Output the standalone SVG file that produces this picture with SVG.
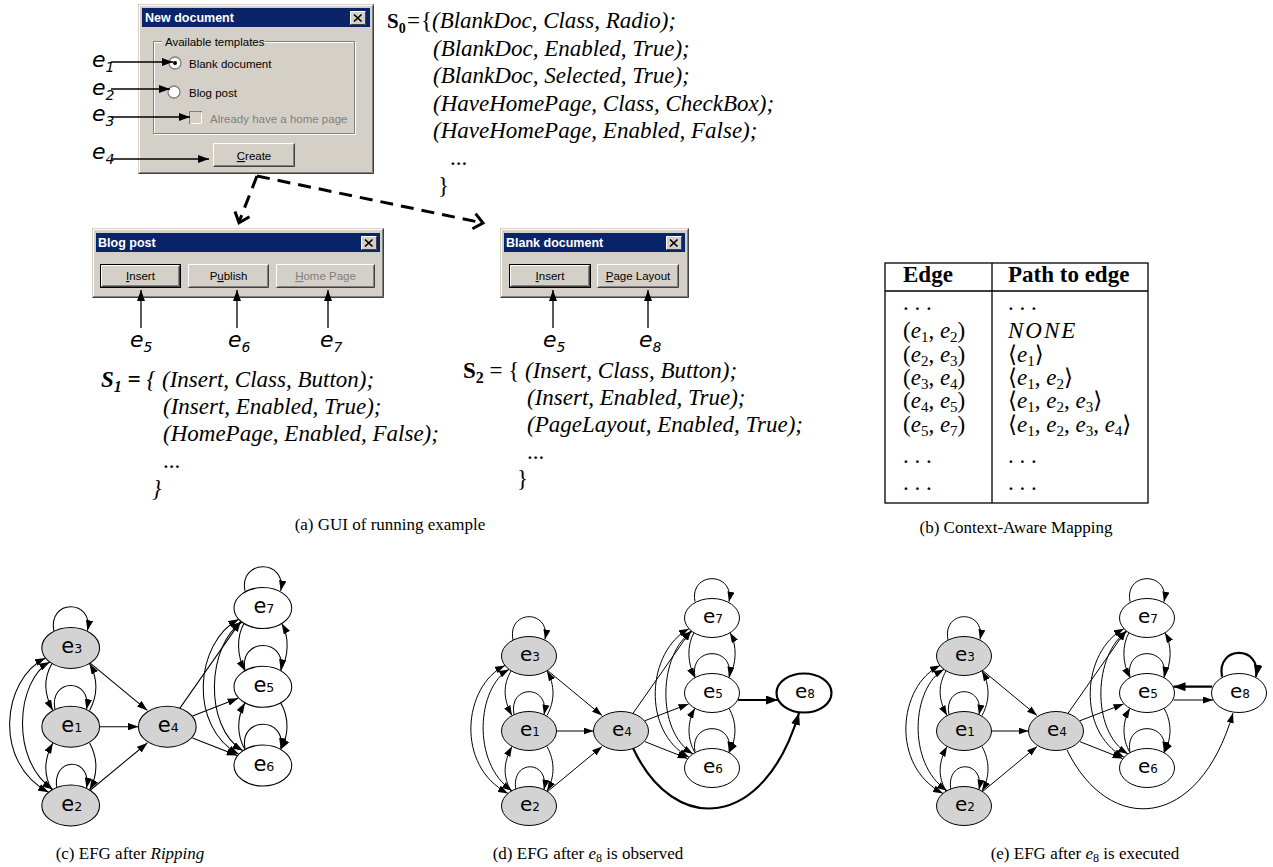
<svg xmlns="http://www.w3.org/2000/svg" width="1273" height="867" viewBox="0 0 1273 867">
<defs>
<style>
.win{fill:#d4d0c8}
.tbar{fill:#0a246a}
.ttl{font-family:"Liberation Sans",Arial,sans-serif;font-weight:bold;font-size:12.5px;fill:#fff}
.ui{font-family:"Liberation Sans",Arial,sans-serif;font-size:11.5px;fill:#000}
.dis{fill:#808080}
.hl{fill:none;stroke:#fff}
.sh{fill:none;stroke:#808080}
.dk{fill:none;stroke:#404040}
.xx{fill:none;stroke:#000;stroke-width:1.7}
.elab{font-family:"DejaVu Sans",Verdana,sans-serif;font-style:italic;font-size:22px;fill:#000}
.esub{font-size:14px}
.ptr{fill:none;stroke:#000;stroke-width:1.3;marker-end:url(#pa)}
.dash{fill:none;stroke:#000;stroke-width:3;stroke-dasharray:13 8}
.chev{fill:none;stroke:#000;stroke-width:3}
.st{font-family:"Liberation Serif","Times New Roman",serif;font-size:23px;font-style:italic;fill:#000}
.up{font-style:normal}
.bd{font-weight:bold}
.tb{font-family:"Liberation Serif","DejaVu Serif",serif;font-size:23px;fill:#000}
.mi{font-style:italic}
.sb{font-size:15px}
.grid{fill:none;stroke:#000;stroke-width:1.3}
.cap{font-family:"Liberation Serif","Times New Roman",serif;font-size:17px;fill:#000;text-anchor:middle}
.ng ellipse{fill:#d3d3d3;stroke:#000;stroke-width:1}
.nw ellipse{fill:#fff;stroke:#000;stroke-width:1}
.nb ellipse{fill:#fff;stroke:#000;stroke-width:2.2}
.nl{font-family:"DejaVu Sans",sans-serif;font-size:20px;text-anchor:middle;fill:#000}
.nd{font-size:12px}
.ed{fill:none;stroke:#000;stroke-width:1;marker-end:url(#ah)}
.ed2{fill:none;stroke:#000;stroke-width:1;marker-start:url(#ah);marker-end:url(#ah)}
.edb{fill:none;stroke:#000;stroke-width:2.2;marker-end:url(#ahb)}
</style>
<marker id="ah" viewBox="0 0 10 7" refX="10" refY="3.5" markerWidth="10" markerHeight="7" markerUnits="userSpaceOnUse" orient="auto-start-reverse"><path d="M0,0L10,3.5L0,7z"/></marker>
<marker id="ahb" viewBox="0 0 12 9" refX="12" refY="4.5" markerWidth="12" markerHeight="9" markerUnits="userSpaceOnUse" orient="auto"><path d="M0,0L12,4.5L0,9z"/></marker>
<marker id="pa" viewBox="0 0 11 8" refX="11" refY="4" markerWidth="11" markerHeight="8" markerUnits="userSpaceOnUse" orient="auto"><path d="M0,0L11,4L0,8z"/></marker>
</defs>
<rect width="1273" height="867" fill="#fff"/>

<!-- New document dialog -->
<g id="dlg-new">
<rect class="win" x="138" y="4" width="236" height="170"/>
<path class="hl" d="M139.5,172.5V5.5H372.5"/>
<path class="dk" d="M138.5,173.5H373.5V4.5"/>
<path class="sh" d="M139.5,172.5H372.5V5.5"/>
<rect class="tbar" x="142" y="8" width="228" height="19"/>
<text class="ttl" x="145" y="22">New document</text>
<rect class="win" x="350" y="11" width="16" height="14"/>
<path class="hl" d="M350.5,24.5V11.5H365.5"/><path class="dk" d="M350.5,24.5H365.5V11.5"/>
<path class="xx" d="M354,14.5L361.5,21.5M361.5,14.5L354,21.5"/>
<rect x="154.5" y="42.5" width="201" height="92" fill="none" stroke="#fff"/>
<rect x="153.5" y="41.5" width="201" height="92" fill="none" stroke="#808080"/>
<rect class="win" x="162" y="35" width="103" height="12"/>
<text class="ui" x="165" y="46">Available templates</text>
<circle cx="175" cy="63" r="6" fill="#fff" stroke="#808080" stroke-width="1.3"/>
<circle cx="175" cy="63" r="2" fill="#000"/>
<text class="ui" x="189" y="68">Blank document</text>
<circle cx="174" cy="92" r="6" fill="#fff" stroke="#808080" stroke-width="1.3"/>
<text class="ui" x="189" y="97">Blog post</text>
<rect x="189.5" y="111.5" width="12" height="12" fill="#d4d0c8" stroke="#808080"/>
<path class="hl" d="M190.5,123.5H201.5V112.5"/>
<text class="ui dis" x="210" y="123">Already have a home page</text>
<rect class="win" x="213" y="143" width="82" height="24"/>
<path class="hl" d="M213.5,166V143.5H294"/>
<path class="dk" d="M213.5,166.5H294.5V143.5"/>
<path class="sh" d="M214.5,165.5H293.5V144.5"/>
<text class="ui" x="254" y="160" text-anchor="middle"><tspan text-decoration="underline">C</tspan>reate</text>
</g>

<g id="lbl-e1"><text class="elab" x="92" y="67">e<tspan class="esub" dy="5">1</tspan></text></g>
<g id="lbl-e2"><text class="elab" x="92" y="95">e<tspan class="esub" dy="5">2</tspan></text></g>
<g id="lbl-e3"><text class="elab" x="92" y="121">e<tspan class="esub" dy="5">3</tspan></text></g>
<g id="lbl-e4"><text class="elab" x="92" y="159">e<tspan class="esub" dy="5">4</tspan></text></g>

<!-- Blog post dialog -->
<g id="dlg-blog">
<rect class="win" x="92" y="228" width="292" height="70"/>
<path class="hl" d="M93.5,296.5V229.5H382.5"/>
<path class="dk" d="M92.5,297.5H383.5V228.5"/>
<path class="sh" d="M93.5,296.5H382.5V229.5"/>
<rect class="tbar" x="96" y="233" width="284" height="19"/>
<text class="ttl" x="98" y="247">Blog post</text>
<rect class="win" x="361" y="236" width="16" height="14"/>
<path class="hl" d="M361.5,249.5V236.5H376.5"/><path class="dk" d="M361.5,249.5H376.5V236.5"/>
<path class="xx" d="M365,239.5L372.5,246.5M372.5,239.5L365,246.5"/>
<rect x="100.5" y="264.5" width="80" height="23" fill="#d4d0c8" stroke="#000"/>
<path class="hl" d="M101.5,286V265.5H179"/>
<path class="dk" d="M101.5,286.5H179.5V265.5"/>
<path class="sh" d="M102.5,285.5H178.5V266.5"/>
<text class="ui" x="140.5" y="280" text-anchor="middle"><tspan text-decoration="underline">I</tspan>nsert</text>
<rect class="win" x="188" y="264" width="81" height="24"/>
<path class="hl" d="M188.5,287V264.5H268"/>
<path class="dk" d="M188.5,287.5H268.5V264.5"/>
<path class="sh" d="M189.5,286.5H267.5V265.5"/>
<text class="ui" x="228.5" y="280" text-anchor="middle">P<tspan text-decoration="underline">u</tspan>blish</text>
<rect class="win" x="276" y="264" width="99" height="24"/>
<path class="hl" d="M276.5,287V264.5H374"/>
<path class="dk" d="M276.5,287.5H374.5V264.5"/>
<path class="sh" d="M277.5,286.5H373.5V265.5"/>
<text class="ui dis" x="325.5" y="280" text-anchor="middle"><tspan text-decoration="underline">H</tspan>ome Page</text>
</g>

<!-- Blank document dialog -->
<g id="dlg-blank">
<rect class="win" x="500" y="228" width="189" height="70"/>
<path class="hl" d="M501.5,296.5V229.5H687.5"/>
<path class="dk" d="M500.5,297.5H688.5V228.5"/>
<path class="sh" d="M501.5,296.5H687.5V229.5"/>
<rect class="tbar" x="504" y="233" width="181" height="19"/>
<text class="ttl" x="506" y="247">Blank document</text>
<rect class="win" x="666" y="236" width="16" height="14"/>
<path class="hl" d="M666.5,249.5V236.5H681.5"/><path class="dk" d="M666.5,249.5H681.5V236.5"/>
<path class="xx" d="M670,239.5L677.5,246.5M677.5,239.5L670,246.5"/>
<rect x="509.5" y="264.5" width="81" height="23" fill="#d4d0c8" stroke="#000"/>
<path class="hl" d="M510.5,286V265.5H589"/>
<path class="dk" d="M510.5,286.5H589.5V265.5"/>
<path class="sh" d="M511.5,285.5H588.5V266.5"/>
<text class="ui" x="550" y="280" text-anchor="middle"><tspan text-decoration="underline">I</tspan>nsert</text>
<rect class="win" x="597" y="264" width="82" height="24"/>
<path class="hl" d="M597.5,287V264.5H678"/>
<path class="dk" d="M597.5,287.5H678.5V264.5"/>
<path class="sh" d="M598.5,286.5H677.5V265.5"/>
<text class="ui" x="638" y="280" text-anchor="middle"><tspan text-decoration="underline">P</tspan>age Layout</text>
</g>

<g id="lbl-e5a"><text class="elab" x="130" y="347">e<tspan class="esub" dy="5">5</tspan></text></g>
<g id="lbl-e6"><text class="elab" x="228" y="347">e<tspan class="esub" dy="5">6</tspan></text></g>
<g id="lbl-e7"><text class="elab" x="320" y="347">e<tspan class="esub" dy="5">7</tspan></text></g>
<g id="lbl-e5b"><text class="elab" x="543" y="347">e<tspan class="esub" dy="5">5</tspan></text></g>
<g id="lbl-e8"><text class="elab" x="639" y="347">e<tspan class="esub" dy="5">8</tspan></text></g>

<g id="gui-connectors">
<path class="ptr" d="M111,62H173"/>
<path class="ptr" d="M111,89H170"/>
<path class="ptr" d="M111,117H190"/>
<path class="ptr" d="M112,159H209"/>
<path class="ptr" d="M141,328V290"/>
<path class="ptr" d="M237,328V290"/>
<path class="ptr" d="M328,328V290"/>
<path class="ptr" d="M553,328V290"/>
<path class="ptr" d="M648,328V290"/>
<path class="dash" d="M257,176L239,222"/>
<polyline class="chev" points="235,211.4 239,222.7 249.5,216.8"/>
<path class="dash" d="M257,176L483,223"/>
<polyline class="chev" points="475.6,213.6 483,223 472.4,228.7"/>
</g>

<!-- state texts -->
<g id="state-s0">
<text class="st" y="28"><tspan x="387" class="bd up" font-size="21">S</tspan><tspan class="bd up" font-size="14" dy="5">0</tspan><tspan class="up" x="407" dy="-5">=</tspan><tspan class="up" x="421">{</tspan><tspan x="432">(BlankDoc, Class, Radio);</tspan></text>
<text class="st" x="433" y="56">(BlankDoc, Enabled, True);</text>
<text class="st" x="433" y="83">(BlankDoc, Selected, True);</text>
<text class="st" x="433" y="111">(HaveHomePage, Class, CheckBox);</text>
<text class="st" x="433" y="138">(HaveHomePage, Enabled, False);</text>
<text class="st up" x="450" y="165">...</text>
<text class="st up" x="438" y="193">}</text>
</g>
<g id="state-s1">
<text class="st" x="101" y="387"><tspan class="bd">S</tspan><tspan class="bd" font-size="16" dy="5">1</tspan><tspan class="bd" dy="-5"> = </tspan>{<tspan x="162">(Insert, Class, Button);</tspan></text>
<text class="st" x="163" y="414">(Insert, Enabled, True);</text>
<text class="st" x="163" y="441">(HomePage, Enabled, False);</text>
<text class="st up" x="163" y="468">...</text>
<text class="st" x="152" y="496">}</text>
</g>
<g id="state-s2">
<text class="st" x="463" y="378"><tspan class="bd up">S</tspan><tspan class="bd up" font-size="16" dy="5">2</tspan><tspan class="up" dy="-5"> = {</tspan><tspan x="525">(Insert, Class, Button);</tspan></text>
<text class="st" x="527" y="405">(Insert, Enabled, True);</text>
<text class="st" x="527" y="432">(PageLayout, Enabled, True);</text>
<text class="st up" x="527" y="459">...</text>
<text class="st up" x="517" y="486">}</text>
</g>

<!-- table -->
<g id="mapping-table">
<rect class="grid" x="885" y="263" width="263" height="240"/>
<path class="grid" d="M885,291H1148M992,263V503"/>
<text class="tb bd" x="903" y="282">Edge</text>
<text class="tb bd" x="1008" y="282">Path to edge</text>
<text class="tb" x="903" y="310">. . .</text>
<text class="tb" x="1008" y="310">. . .</text>
<text class="tb" x="903" y="338">(<tspan class="mi">e</tspan><tspan class="sb" dy="4">1</tspan><tspan dy="-4">, </tspan><tspan class="mi">e</tspan><tspan class="sb" dy="4">2</tspan><tspan dy="-4">)</tspan></text>
<text class="tb mi" x="1008" y="338" letter-spacing="2">NONE</text>
<text class="tb" x="903" y="361.5">(<tspan class="mi">e</tspan><tspan class="sb" dy="4">2</tspan><tspan dy="-4">, </tspan><tspan class="mi">e</tspan><tspan class="sb" dy="4">3</tspan><tspan dy="-4">)</tspan></text>
<text class="tb" x="1008" y="361.5">⟨<tspan class="mi">e</tspan><tspan class="sb" dy="4">1</tspan><tspan dy="-4">⟩</tspan></text>
<text class="tb" x="903" y="385">(<tspan class="mi">e</tspan><tspan class="sb" dy="4">3</tspan><tspan dy="-4">, </tspan><tspan class="mi">e</tspan><tspan class="sb" dy="4">4</tspan><tspan dy="-4">)</tspan></text>
<text class="tb" x="1008" y="385">⟨<tspan class="mi">e</tspan><tspan class="sb" dy="4">1</tspan><tspan dy="-4">, </tspan><tspan class="mi">e</tspan><tspan class="sb" dy="4">2</tspan><tspan dy="-4">⟩</tspan></text>
<text class="tb" x="903" y="408">(<tspan class="mi">e</tspan><tspan class="sb" dy="4">4</tspan><tspan dy="-4">, </tspan><tspan class="mi">e</tspan><tspan class="sb" dy="4">5</tspan><tspan dy="-4">)</tspan></text>
<text class="tb" x="1008" y="408">⟨<tspan class="mi">e</tspan><tspan class="sb" dy="4">1</tspan><tspan dy="-4">, </tspan><tspan class="mi">e</tspan><tspan class="sb" dy="4">2</tspan><tspan dy="-4">, </tspan><tspan class="mi">e</tspan><tspan class="sb" dy="4">3</tspan><tspan dy="-4">⟩</tspan></text>
<text class="tb" x="903" y="431.5">(<tspan class="mi">e</tspan><tspan class="sb" dy="4">5</tspan><tspan dy="-4">, </tspan><tspan class="mi">e</tspan><tspan class="sb" dy="4">7</tspan><tspan dy="-4">)</tspan></text>
<text class="tb" x="1008" y="431.5">⟨<tspan class="mi">e</tspan><tspan class="sb" dy="4">1</tspan><tspan dy="-4">, </tspan><tspan class="mi">e</tspan><tspan class="sb" dy="4">2</tspan><tspan dy="-4">, </tspan><tspan class="mi">e</tspan><tspan class="sb" dy="4">3</tspan><tspan dy="-4">, </tspan><tspan class="mi">e</tspan><tspan class="sb" dy="4">4</tspan><tspan dy="-4">⟩</tspan></text>
<text class="tb" x="903" y="463">. . .</text>
<text class="tb" x="1008" y="463">. . .</text>
<text class="tb" x="903" y="490">. . .</text>
<text class="tb" x="1008" y="490">. . .</text>
</g>

<g id="captions">
<text class="cap" x="390" y="530">(a) GUI of running example</text>
<text class="cap" x="1016" y="533">(b) Context-Aware Mapping</text>
<text class="cap" x="130" y="859">(c) EFG after <tspan class="mi">Ripping</tspan></text>
<text class="cap" x="588" y="859">(d) EFG after <tspan class="mi">e</tspan><tspan font-size="12" dy="3">8</tspan><tspan dy="-3"> is observed</tspan></text>
<text class="cap" x="1085" y="859">(e) EFG after <tspan class="mi">e</tspan><tspan font-size="12" dy="3">8</tspan><tspan dy="-3"> is executed</tspan></text>
</g>

<!-- Graph (c) -->
<g id="graph-c" transform="translate(70.7,726.7) scale(1.05)">
<g id="c-connectors">
<path class="ed" d="M-16,-91C-22,-122 22,-122 16,-91.5"/>
<path class="ed" d="M-15,-16.3C-21,-47 21,-47 15,-16.3"/>
<path class="ed" d="M-13,59.5C-19,28 21,28 15,58.7"/>
<path class="ed" d="M166,-129.3C160,-160 206,-160 200,-129.3"/>
<path class="ed" d="M166,-54.3C160,-85 206,-85 200,-54.3"/>
<path class="ed" d="M166,20.7C160,-10 206,-10 200,20.7"/>
<path class="ed" d="M-18,-60C-26,-46 -26,-32 -17,-15.5"/>
<path class="ed" d="M18,-15.5C26,-30 26,-46 18,-60"/>
<path class="ed" d="M-18,60C-26,46 -26,32 -17,15.5"/>
<path class="ed" d="M18,15.5C26,30 26,46 18,60"/>
<path class="ed2" d="M-21,62.4C-74,35 -66,-45 -24,-65.5"/>
<path class="ed2" d="M-17,59.7C-58,32 -52,-44 -20,-61.6"/>
<path class="ed" d="M18,-61L73,-15.5"/>
<path class="ed" d="M27.5,0L64.5,0"/>
<path class="ed" d="M18,61L73,15.5"/>
<path class="ed" d="M104,-17.7L162,-100.5"/>
<path class="ed" d="M116,-10.3L159.5,-27"/>
<path class="ed" d="M116,10.7L158.5,27.5"/>
<path class="ed" d="M165,-98.3C158,-86 158,-68 166,-53.3"/>
<path class="ed" d="M200,-53.3C208,-68 208,-86 201,-98.3"/>
<path class="ed" d="M166,21.7C158,8 158,-9 166,-22.7"/>
<path class="ed" d="M200,-22.7C208,-9 208,8 200,21.7"/>
<path class="ed2" d="M160,-102.3C118,-80 112,0 160,26.3"/>
<path class="ed2" d="M163,-99.6C130,-78 126,0 164,22.9"/>
</g>
<g id="c-e3" class="ng"><ellipse cx="0" cy="-75" rx="27.5" ry="19.5"/><text class="nl" x="1" y="-70">e<tspan class="nd">3</tspan></text></g>
<g id="c-e1" class="ng"><ellipse cx="0" cy="0" rx="27.5" ry="19.5"/><text class="nl" x="1" y="5">e<tspan class="nd">1</tspan></text></g>
<g id="c-e2" class="ng"><ellipse cx="0" cy="75" rx="27.5" ry="19.5"/><text class="nl" x="1" y="80">e<tspan class="nd">2</tspan></text></g>
<g id="c-e4" class="ng"><ellipse cx="92" cy="0" rx="27.5" ry="19.5"/><text class="nl" x="93" y="5">e<tspan class="nd">4</tspan></text></g>
<g id="c-e7" class="nw"><ellipse cx="183" cy="-113" rx="27.5" ry="19.5"/><text class="nl" x="184" y="-108">e<tspan class="nd">7</tspan></text></g>
<g id="c-e5" class="nw"><ellipse cx="183" cy="-38" rx="27.5" ry="19.5"/><text class="nl" x="184" y="-33">e<tspan class="nd">5</tspan></text></g>
<g id="c-e6" class="nw"><ellipse cx="183" cy="37" rx="27.5" ry="19.5"/><text class="nl" x="184" y="42">e<tspan class="nd">6</tspan></text></g>
</g>

<!-- Graph (d) -->
<g id="graph-d" transform="translate(529,731)">
<g id="d-connectors">
<path class="ed" d="M-16,-91C-22,-122 22,-122 16,-91.5"/>
<path class="ed" d="M-15,-16.3C-21,-47 21,-47 15,-16.3"/>
<path class="ed" d="M-13,59.5C-19,28 21,28 15,58.7"/>
<path class="ed" d="M166,-129.3C160,-160 206,-160 200,-129.3"/>
<path class="ed" d="M166,-54.3C160,-85 206,-85 200,-54.3"/>
<path class="ed" d="M166,20.7C160,-10 206,-10 200,20.7"/>
<path class="ed" d="M-18,-60C-26,-46 -26,-32 -17,-15.5"/>
<path class="ed" d="M18,-15.5C26,-30 26,-46 18,-60"/>
<path class="ed" d="M-18,60C-26,46 -26,32 -17,15.5"/>
<path class="ed" d="M18,15.5C26,30 26,46 18,60"/>
<path class="ed2" d="M-21,62.4C-74,35 -66,-45 -24,-65.5"/>
<path class="ed2" d="M-17,59.7C-58,32 -52,-44 -20,-61.6"/>
<path class="ed" d="M18,-61L73,-15.5"/>
<path class="ed" d="M27.5,0L64.5,0"/>
<path class="ed" d="M18,61L73,15.5"/>
<path class="ed" d="M104,-17.7L162,-100.5"/>
<path class="ed" d="M116,-10.3L159.5,-27"/>
<path class="ed" d="M116,10.7L158.5,27.5"/>
<path class="ed" d="M165,-98.3C158,-86 158,-68 166,-53.3"/>
<path class="ed" d="M200,-53.3C208,-68 208,-86 201,-98.3"/>
<path class="ed" d="M166,21.7C158,8 158,-9 166,-22.7"/>
<path class="ed" d="M200,-22.7C208,-9 208,8 200,21.7"/>
<path class="ed2" d="M160,-102.3C118,-80 112,0 160,26.3"/>
<path class="ed2" d="M163,-99.6C130,-78 126,0 164,22.9"/>
<path class="edb" d="M209,-31L249,-31"/>
<path class="edb" d="M104,17C145,105 235,100 270,-18"/>
</g>
<g id="d-e3" class="ng"><ellipse cx="0" cy="-75" rx="27.5" ry="19.5"/><text class="nl" x="1" y="-70">e<tspan class="nd">3</tspan></text></g>
<g id="d-e1" class="ng"><ellipse cx="0" cy="0" rx="27.5" ry="19.5"/><text class="nl" x="1" y="5">e<tspan class="nd">1</tspan></text></g>
<g id="d-e2" class="ng"><ellipse cx="0" cy="75" rx="27.5" ry="19.5"/><text class="nl" x="1" y="80">e<tspan class="nd">2</tspan></text></g>
<g id="d-e4" class="ng"><ellipse cx="92" cy="0" rx="27.5" ry="19.5"/><text class="nl" x="93" y="5">e<tspan class="nd">4</tspan></text></g>
<g id="d-e7" class="nw"><ellipse cx="183" cy="-113" rx="27.5" ry="19.5"/><text class="nl" x="184" y="-108">e<tspan class="nd">7</tspan></text></g>
<g id="d-e5" class="nw"><ellipse cx="183" cy="-38" rx="27.5" ry="19.5"/><text class="nl" x="184" y="-33">e<tspan class="nd">5</tspan></text></g>
<g id="d-e6" class="nw"><ellipse cx="183" cy="37" rx="27.5" ry="19.5"/><text class="nl" x="184" y="42">e<tspan class="nd">6</tspan></text></g>
<g id="d-e8" class="nb"><ellipse cx="275" cy="-38" rx="27.5" ry="19.5"/><text class="nl" x="276" y="-33">e<tspan class="nd">8</tspan></text></g>
</g>

<!-- Graph (e) -->
<g id="graph-e" transform="translate(964,731)">
<g id="e-connectors">
<path class="ed" d="M-16,-91C-22,-122 22,-122 16,-91.5"/>
<path class="ed" d="M-15,-16.3C-21,-47 21,-47 15,-16.3"/>
<path class="ed" d="M-13,59.5C-19,28 21,28 15,58.7"/>
<path class="ed" d="M166,-129.3C160,-160 206,-160 200,-129.3"/>
<path class="ed" d="M166,-54.3C160,-85 206,-85 200,-54.3"/>
<path class="ed" d="M166,20.7C160,-10 206,-10 200,20.7"/>
<path class="ed" d="M-18,-60C-26,-46 -26,-32 -17,-15.5"/>
<path class="ed" d="M18,-15.5C26,-30 26,-46 18,-60"/>
<path class="ed" d="M-18,60C-26,46 -26,32 -17,15.5"/>
<path class="ed" d="M18,15.5C26,30 26,46 18,60"/>
<path class="ed2" d="M-21,62.4C-74,35 -66,-45 -24,-65.5"/>
<path class="ed2" d="M-17,59.7C-58,32 -52,-44 -20,-61.6"/>
<path class="ed" d="M18,-61L73,-15.5"/>
<path class="ed" d="M27.5,0L64.5,0"/>
<path class="ed" d="M18,61L73,15.5"/>
<path class="ed" d="M104,-17.7L162,-100.5"/>
<path class="ed" d="M116,-10.3L159.5,-27"/>
<path class="ed" d="M116,10.7L158.5,27.5"/>
<path class="ed" d="M165,-98.3C158,-86 158,-68 166,-53.3"/>
<path class="ed" d="M200,-53.3C208,-68 208,-86 201,-98.3"/>
<path class="ed" d="M166,21.7C158,8 158,-9 166,-22.7"/>
<path class="ed" d="M200,-22.7C208,-9 208,8 200,21.7"/>
<path class="ed2" d="M160,-102.3C118,-80 112,0 160,26.3"/>
<path class="ed2" d="M163,-99.6C130,-78 126,0 164,22.9"/>
<path class="edb" d="M248,-44.3L209.5,-44.3"/>
<path class="ed" d="M209.5,-31L249,-31"/>
<path class="ed" d="M103,19C145,105 235,100 269,-18"/>
<path class="edb" d="M258,-54.3C252,-86 298,-86 292,-54.3"/>
</g>
<g id="e-e3" class="ng"><ellipse cx="0" cy="-75" rx="27.5" ry="19.5"/><text class="nl" x="1" y="-70">e<tspan class="nd">3</tspan></text></g>
<g id="e-e1" class="ng"><ellipse cx="0" cy="0" rx="27.5" ry="19.5"/><text class="nl" x="1" y="5">e<tspan class="nd">1</tspan></text></g>
<g id="e-e2" class="ng"><ellipse cx="0" cy="75" rx="27.5" ry="19.5"/><text class="nl" x="1" y="80">e<tspan class="nd">2</tspan></text></g>
<g id="e-e4" class="ng"><ellipse cx="92" cy="0" rx="27.5" ry="19.5"/><text class="nl" x="93" y="5">e<tspan class="nd">4</tspan></text></g>
<g id="e-e7" class="nw"><ellipse cx="183" cy="-113" rx="27.5" ry="19.5"/><text class="nl" x="184" y="-108">e<tspan class="nd">7</tspan></text></g>
<g id="e-e5" class="nw"><ellipse cx="183" cy="-38" rx="27.5" ry="19.5"/><text class="nl" x="184" y="-33">e<tspan class="nd">5</tspan></text></g>
<g id="e-e6" class="nw"><ellipse cx="183" cy="37" rx="27.5" ry="19.5"/><text class="nl" x="184" y="42">e<tspan class="nd">6</tspan></text></g>
<g id="e-e8" class="nw"><ellipse cx="275" cy="-38" rx="27.5" ry="19.5"/><text class="nl" x="276" y="-33">e<tspan class="nd">8</tspan></text></g>
</g>
</svg>
